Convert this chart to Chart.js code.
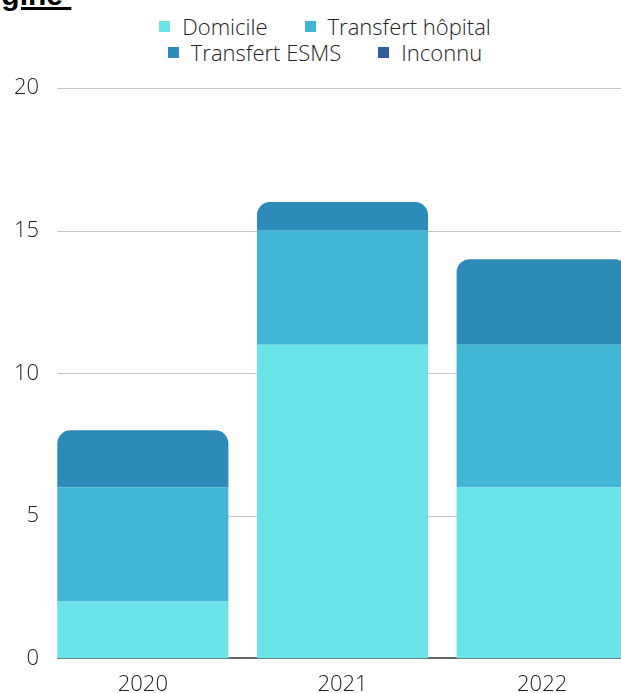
<!DOCTYPE html>
<html>
<head>
<meta charset="utf-8">
<script src="https://cdn.jsdelivr.net/npm/chart.js@4.4.1/dist/chart.umd.min.js"></script>
<style>
  html, body { margin: 0; padding: 0; background: #fff; overflow: hidden; }
  body { width: 621px; height: 693px; position: relative; }
  #titre {
    position: absolute; left: -42px; top: -20px;
    font: bold 30px "Liberation Sans", Arial, sans-serif; line-height: 30px;
    color: #000; text-decoration: underline; white-space: pre;
  }
  #legende {
    position: absolute; top: 13px; left: 0; width: 650px;
    display: flex; justify-content: center;
  }
  #legende .rangs {
    width: 345px; display: flex; flex-wrap: wrap; justify-content: center;
    column-gap: 37px; row-gap: 0;
  }
  .item { display: flex; align-items: center; font: 300 22px "Open Sans", sans-serif; color: #222; line-height: 26px; }
  .carre { width: 11px; height: 11px; margin-right: 12px; }
  #zone { position: absolute; left: 0; top: 0; }
</style>
</head>
<body>
<div id="titre">Origine </div>
<div id="legende"><div class="rangs"></div></div>
<canvas id="zone" width="660" height="715"></canvas>
<script>
// données
const annees = ['2020', '2021', '2022'];
const domicile = [2, 11, 6];
const transfertHopital = [4, 4, 5];
const transfertEsms = [2, 1, 3];
const inconnu = [0, 0, 0];
const graduations = [0, 5, 10, 15, 20];

const series = [
  { label: 'Domicile', data: domicile, color: '#6AE4E8' },
  { label: 'Transfert hôpital', data: transfertHopital, color: '#41B6D5' },
  { label: 'Transfert ESMS', data: transfertEsms, color: '#2C8BB8' },
  { label: 'Inconnu', data: inconnu, color: '#2E5E9B' }
];

// légende en HTML (deux lignes centrées)
const rangs = document.querySelector('#legende .rangs');
series.forEach(s => {
  const el = document.createElement('div');
  el.className = 'item';
  el.innerHTML = `<span class="carre" style="background:${s.color}"></span><span>${s.label}</span>`;
  rangs.appendChild(el);
});

// lignes de grille qui commencent au bord de la première barre
const grilleBarres = {
  id: 'grilleBarres',
  beforeDatasetsDraw(chart) {
    const { ctx, chartArea, scales: { y } } = chart;
    const premiere = chart.getDatasetMeta(0).data[0];
    const gauche = premiere.x - premiere.width / 2;
    ctx.save();
    graduations.forEach(v => {
      ctx.beginPath();
      let py;
      if (v === 0) {
        // ligne de base sous les barres (visible seulement entre elles)
        py = Math.round(y.getPixelForValue(v)) - 1;
        ctx.strokeStyle = '#666666';
        ctx.lineWidth = 2;
      } else {
        py = Math.round(y.getPixelForValue(v)) + 0.5;
        ctx.strokeStyle = '#C4C4C4';
        ctx.lineWidth = 1;
      }
      ctx.moveTo(gauche, py);
      ctx.lineTo(chartArea.right, py);
      ctx.stroke();
    });
    ctx.restore();
  }
};

const police = { family: '"Open Sans", sans-serif', size: 22, weight: '300' };

new Chart(document.getElementById('zone'), {
  type: 'bar',
  data: {
    labels: annees,
    datasets: series.map((s, i) => ({
      label: s.label,
      data: s.data,
      backgroundColor: s.color,
      borderWidth: 0,
      borderSkipped: false,
      borderRadius: i === 2 ? { topLeft: 13, topRight: 13, bottomLeft: 0, bottomRight: 0 } : 0,
      categoryPercentage: 1,
      barPercentage: 0.857
    }))
  },
  options: {
    responsive: false,
    animation: false,
    layout: { padding: { top: 88, right: 18, bottom: 4, left: 0 } },
    plugins: {
      legend: { display: false },
      tooltip: { enabled: false }
    },
    scales: {
      x: {
        stacked: true,
        grid: { display: false, drawTicks: false },
        border: { display: false },
        ticks: { font: police, color: '#222', padding: 13 }
      },
      y: {
        stacked: true,
        min: 0,
        max: 20,
        afterFit(s) { s.width = 43; },
        grid: { display: false, drawTicks: false },
        border: { display: false },
        ticks: { stepSize: 5, font: police, color: '#222', padding: 4 }
      }
    }
  },
  plugins: [grilleBarres]
});
</script>
</body>
</html>
